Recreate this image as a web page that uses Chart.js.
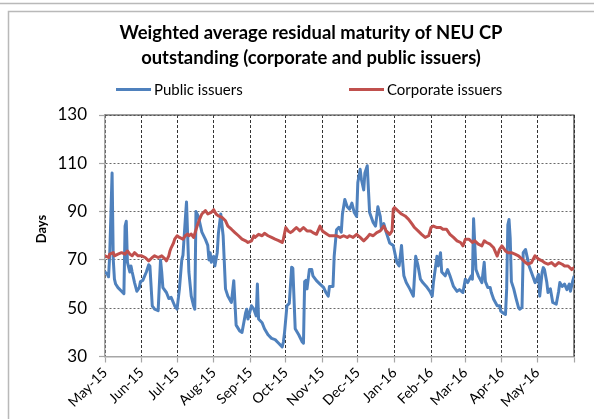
<!DOCTYPE html>
<html>
<head>
<meta charset="utf-8">
<script src="https://cdn.jsdelivr.net/npm/chart.js@4.4.0/dist/chart.umd.min.js"></script>
<style>
html,body{margin:0;padding:0;background:#fff;}
#wrap{width:594px;height:419px;position:relative;}
</style>
</head>
<body>
<div id="wrap"><canvas id="c" width="594" height="419"></canvas></div>
<script>
// ---- data ----
const titleLines = ['Weighted average residual maturity of NEU CP', 'outstanding (corporate and public issuers)'];
const seriesNames = ['Public issuers', 'Corporate issuers'];
const yAxisTitle = 'Days';
const baseDate = '2015-05-01';
const monthLabels = ['May-15','Jun-15','Jul-15','Aug-15','Sep-15','Oct-15','Nov-15','Dec-15','Jan-16','Feb-16','Mar-16','Apr-16','May-16'];
const monthStarts = ['2015-05-01','2015-06-01','2015-07-01','2015-08-01','2015-09-01','2015-10-01','2015-11-01','2015-12-01','2016-01-01','2016-02-01','2016-03-01','2016-04-01','2016-05-01'];
const axisEndDate = '2016-06-01';
const yTicks = [30, 50, 70, 90, 110, 130];

// days since 2015-05-01
const publicDays = [0,2,3,4,6,7,8,9,11,14,16,17,18,19,21,22,23,25,27,29,30,32,35,37,38,40,42,45,47,48,49,52,54,56,59,61,63,65,66,68,69,71,73,75,76,77,79,82,85,87,88,89,90,92,93,95,96,98,100,102,104,107,109,111,114,116,119,120,121,124,126,128,129,130,133,135,138,141,144,147,150,151,152,154,156,158,159,161,164,167,168,169,170,171,173,175,176,179,182,185,187,189,190,193,194,196,198,200,201,203,205,207,209,211,213,214,216,217,219,220,222,223,224,227,229,231,233,234,236,238,241,244,247,249,251,252,253,255,258,261,263,265,267,269,272,275,277,278,281,282,284,285,288,290,292,295,298,300,303,305,307,310,311,312,314,316,319,321,322,324,326,327,329,332,334,335,337,339,340,341,342,343,344,346,348,350,351,353,354,356,357,359,362,364,365,367,368,370,371,372,374,375,377,379,382,384,385,387,389,391,393,394,396,397];
const publicValues = [65,64,63,72,106,70,62,60,58.5,57,56,84,86,69,65,67.5,65,60.6,57,58.5,61,61.5,65,68,67.5,51,49.6,49,70,65,58.5,56.5,54,54.5,51,49.6,58,70,72,87,94,65,55,51,49.6,90,88,81.5,78.5,76,70,73,69,71.5,67.5,73,81,89,80,58,55,52.4,61.4,43,40.6,40,48,49.6,45.5,51,49.6,46.8,60,45.5,44,41.5,39,37.5,37,35.5,34,36,40,51,52,67,66.5,41.5,39,36,35.5,61,61.5,58,66,66,63.4,61.4,60,58.6,56.5,55,59,59,71.5,82.5,83.5,81.5,89,95,92,91,93.5,89.6,88,102,107.5,103.4,99,106,109,99,89.6,85.5,84,92,88,82.7,85,81.5,77,76,69,67.5,76,69,63.4,60.6,58,55,71.5,67.5,62,60.6,59,57,55,60.6,71.5,67.5,73,65,63.4,66,63.4,59,57,57.7,56.5,62,60.6,63.4,62,87,66,63.4,60.6,69,61,58.6,58.6,56.5,53.7,51,51,48.8,48,47.4,58,84.5,86.7,79,61,58,54,50.3,49.6,50.3,73,74.3,72,67.5,63.4,60.6,61.4,64,55,64.8,66.8,66,60.6,56.5,58,52.4,51.7,57,60.6,59,60,57.7,60,57,61.4,63];

const corporateDays = [0,3,4,7,8,11,14,17,19,21,23,25,28,31,34,37,40,42,45,48,51,52,54,55,56,58,59,61,63,66,68,70,71,73,75,78,80,82,85,87,90,92,94,96,99,102,104,107,110,113,116,119,121,124,126,127,130,133,135,138,141,144,147,150,151,153,155,157,159,162,165,168,171,174,176,179,182,184,188,190,193,196,199,202,205,207,210,213,216,219,222,224,227,230,233,236,238,241,243,244,245,248,251,254,257,260,262,265,268,271,274,276,278,281,284,286,289,292,295,298,301,303,305,308,311,313,316,319,321,323,326,329,332,334,336,339,341,344,347,350,353,356,358,361,364,367,370,372,375,378,381,384,387,389,392,395,397];
const corporateValues = [71.7,71,72.4,73,71.7,72.4,73,72.4,73.7,72.4,71.7,73,71.7,71.7,71,69.6,71,71.7,71,71.7,70.3,69.6,71.7,73.7,75,77,78.6,80,79.3,78.6,80,80.7,80,80.7,79.3,84,86.8,89,90.4,89,89.7,90.8,89,88.2,87.6,86.2,84,82.7,81.3,80,78.6,77.9,77.2,77.9,80,79.3,80.6,80,81,80,79.3,78.6,78,77.2,78.6,83.4,82,81.3,82,83.4,82,83.4,82,82,81.3,80.6,84,82,80.6,80,80,80,79.3,80,79.3,80,79.3,80.6,79.3,77.9,79.3,80.6,80,81.3,82,84,82,80.6,82,91,91.7,90.3,89,88.2,86.8,84.8,83.4,82,80.6,79.3,80,83.4,84,83.4,83.4,82.7,82.7,80.6,79.3,77.9,77.2,75.8,78.6,78.6,77.2,77.9,76.5,75.8,77.9,77.2,76.5,75,71.6,74.4,75.8,73.7,73,73,72.4,71.7,70.3,68.9,68.2,68.9,71.7,70.3,69.6,68.9,68.2,68.9,67.5,68.9,68.2,67.5,67.5,66,66.8];

// ---- helpers ----
function dayOffset(s) {
  const [a, b] = [s, baseDate].map(d => { const p = d.split('-').map(Number); return Date.UTC(p[0], p[1] - 1, p[2]); });
  return Math.round((a - b) / 86400000);
}
const monthOffsets = monthStarts.map(dayOffset);
const axisEnd = dayOffset(axisEndDate);
const labelByOffset = {};
monthOffsets.forEach((o, i) => { labelByOffset[o] = monthLabels[i]; });

const FONT = 'Lato, "Open Sans", sans-serif';
const BLUE = '#4F81BD';
const RED = '#C0504D';

const decorPlugin = {
  id: 'decor',
  beforeDraw(chart) {
    const ctx = chart.ctx;
    ctx.save();
    ctx.fillStyle = '#fff';
    ctx.fillRect(0, 0, chart.width, chart.height);
    // frame lines
    ctx.strokeStyle = '#b9b9b9';
    ctx.lineWidth = 1.5;
    ctx.beginPath();
    ctx.moveTo(0, 3.5); ctx.lineTo(chart.width, 3.5);
    ctx.moveTo(chart.width, 11.5); ctx.lineTo(8.5, 11.5); ctx.lineTo(8.5, chart.height);
    ctx.stroke();
    // title
    ctx.fillStyle = '#000';
    ctx.textAlign = 'center';
    ctx.textBaseline = 'alphabetic';
    ctx.font = 'bold 18.4px ' + FONT;
    ctx.fillText(titleLines[0], 311, 38.5);
    ctx.fillText(titleLines[1], 311, 64);
    // legend
    const items = [{x: 116, color: BLUE, name: seriesNames[0]}, {x: 349, color: RED, name: seriesNames[1]}];
    ctx.font = '15px ' + FONT;
    ctx.textAlign = 'left';
    items.forEach(it => {
      ctx.strokeStyle = it.color;
      ctx.lineWidth = 3;
      ctx.beginPath();
      ctx.moveTo(it.x, 89.5); ctx.lineTo(it.x + 35, 89.5);
      ctx.stroke();
      ctx.fillText(it.name, it.x + 38, 95);
    });
    // y axis title
    ctx.save();
    ctx.translate(42, 229);
    ctx.rotate(-Math.PI / 2);
    ctx.font = 'bold 13px ' + FONT;
    ctx.textAlign = 'center';
    ctx.textBaseline = 'middle';
    ctx.fillText(yAxisTitle, 0, 0);
    ctx.restore();
    ctx.restore();
  },
  beforeDatasetsDraw(chart) {
    const {ctx, chartArea: a} = chart;
    ctx.save();
    ctx.strokeStyle = '#3a3a3a';
    ctx.lineWidth = 1.2;
    ctx.beginPath();
    ctx.moveTo(a.left, a.top); ctx.lineTo(a.right, a.top); ctx.lineTo(a.right, a.bottom);
    ctx.stroke();
    ctx.restore();
  }
};

new Chart(document.getElementById('c'), {
  type: 'line',
  data: {
    datasets: [
      {
        label: seriesNames[0],
        data: publicDays.map((d, i) => ({x: d, y: publicValues[i]})),
        borderColor: BLUE, backgroundColor: BLUE, borderWidth: 3,
        pointRadius: 0, tension: 0, fill: false, order: 1,
        borderJoinStyle: 'round', borderCapStyle: 'round'
      },
      {
        label: seriesNames[1],
        data: corporateDays.map((d, i) => ({x: d, y: corporateValues[i]})),
        borderColor: RED, backgroundColor: RED, borderWidth: 3,
        pointRadius: 0, tension: 0, fill: false, order: 0,
        borderJoinStyle: 'round', borderCapStyle: 'round'
      }
    ]
  },
  options: {
    responsive: false,
    animation: false,
    devicePixelRatio: 1,
    layout: {padding: {top: 115, right: 20, left: 0, bottom: 0}},
    plugins: {legend: {display: false}, title: {display: false}, tooltip: {enabled: false}},
    scales: {
      x: {
        type: 'linear',
        min: 0,
        max: axisEnd,
        afterBuildTicks: s => { s.ticks = monthOffsets.concat([axisEnd]).map(v => ({value: v})); },
        afterFit: s => { s.height = 62.5; },
        ticks: {
          autoSkip: false, minRotation: 45, maxRotation: 45, padding: 2,
          color: '#000', font: {family: FONT, size: 14},
          callback: v => (labelByOffset[v] !== undefined ? labelByOffset[v] : '')
        },
        grid: {color: '#333', lineWidth: 1, tickLength: 6, tickColor: '#a6a6a6', tickWidth: 1.2},
        border: {color: '#a6a6a6', width: 1.5, dash: [3, 2]}
      },
      y: {
        type: 'linear',
        min: yTicks[0],
        max: yTicks[yTicks.length - 1],
        afterBuildTicks: s => { s.ticks = yTicks.map(v => ({value: v})); },
        afterFit: s => { s.width = 105; },
        ticks: {padding: 12, color: '#000', font: {family: FONT, size: 17}},
        grid: {color: '#6a6a6a', lineWidth: 1, tickLength: 6, tickColor: '#a6a6a6', tickWidth: 1.2},
        border: {color: '#a6a6a6', width: 1.5, dash: [2, 2]}
      }
    }
  },
  plugins: [decorPlugin]
});
</script>
</body>
</html>
